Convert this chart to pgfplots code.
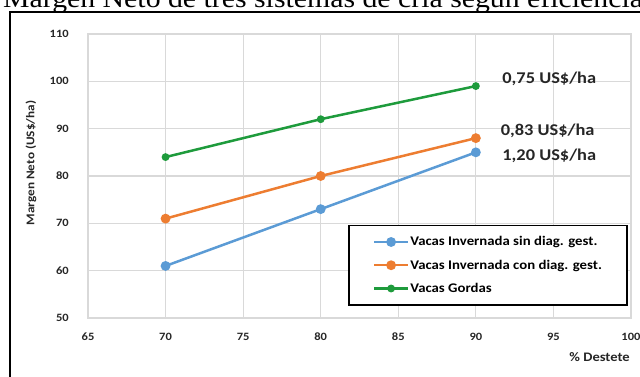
\documentclass[border=0pt]{standalone}
\usepackage{pgfplots}
\pgfplotsset{compat=1.18}
\usepackage{fontspec}
\setmainfont{Carlito}[FakeStretch=1.12]
\newfontfamily\titlefont{Liberation Serif}[FakeStretch=1.12]

\definecolor{serA}{HTML}{5B9BD5}
\definecolor{serB}{HTML}{ED7D31}
\definecolor{serC}{HTML}{1E9B3C}
\definecolor{gridc}{HTML}{D9D9D9}

\begin{document}
\begin{tikzpicture}[x=1pt,y=1pt]
\useasboundingbox (0,0) rectangle (640,376);
\clip (0,0) rectangle (640,376);

% heading of the figure
\node[anchor=base west, inner sep=0pt, font=\titlefont\fontsize{26.6}{28}\selectfont]
  at (3,368.5) {Margen Neto de tres sistemas de cría según eficiencia};

% outer frame
\draw[line width=1.5pt] (10,-20) -- (10,364) -- (700,364);

\begin{axis}[
  at={(88pt,58pt)}, anchor=south west,
  scale only axis, width=543pt, height=284pt,
  xmin=65, xmax=100, ymin=50, ymax=110,
  xtick={65,70,...,100}, ytick={50,60,...,110},
  grid=major,
  major grid style={gridc, line width=1.2pt},
  axis line style={gridc, line width=1.2pt},
  major tick length=0pt,
  tick style={draw=none},
  /pgf/number format/assume math mode=true,
  ticklabel style={font=\bfseries\fontsize{11.2}{12}\selectfont, text=black!85},
  yticklabel style={inner sep=0pt, anchor=east, xshift=-19pt},
  xticklabel style={inner sep=0pt, anchor=north, yshift=-15pt},
  legend cell align=left,
  legend style={
    at={(rel axis cs:0.479,0.328)}, anchor=north west,
    draw=black, line width=1.5pt,
    inner xsep=24pt, inner ysep=10pt,
    row sep=10.5pt,
    font=\bfseries\fontsize{13.2}{14}\selectfont,
    nodes={inner sep=1pt},
  },
  legend image code/.code={
    \draw[mark repeat=2, mark phase=2] plot coordinates {(0pt,0pt) (17pt,0pt) (34pt,0pt)};
  },
]
\addplot[serA, line width=2.5pt, mark=*, mark size=3.6pt, mark options={solid, fill=serA}]
  coordinates {(70,61) (80,73) (90,85)};
\addlegendentry{Vacas Invernada sin diag. gest.}
\addplot[serB, line width=2.5pt, mark=*, mark size=3.6pt, mark options={solid, fill=serB}]
  coordinates {(70,71) (80,80) (90,88)};
\addlegendentry{Vacas Invernada con diag. gest.}
\addplot[serC, line width=2.5pt, mark=*, mark size=2.6pt, mark options={solid, fill=serC}]
  coordinates {(70,84) (80,92) (90,99)};
\addlegendentry{Vacas Gordas}

\begin{scope}[every node/.style={anchor=west, inner sep=0pt, font=\bfseries\fontsize{16.4}{17}\selectfont, text=black!85}]
\node at (axis cs:91.7,100.5) {0,75 US\$/ha};
\node at (axis cs:91.6,89.5) {0,83 US\$/ha};
\node at (axis cs:91.7,84.2) {1,20 US\$/ha};
\end{scope}
\end{axis}

% axis titles
\node[rotate=90, inner sep=0pt, font=\bfseries\fontsize{11.8}{12}\selectfont, text=black!85]
  at (31,213) {Margen Neto (US\$/ha)};
\node[anchor=east, inner sep=0pt, font=\bfseries\fontsize{13}{14}\selectfont, text=black!85]
  at (630,19) {\% Destete};
\end{tikzpicture}
\end{document}
